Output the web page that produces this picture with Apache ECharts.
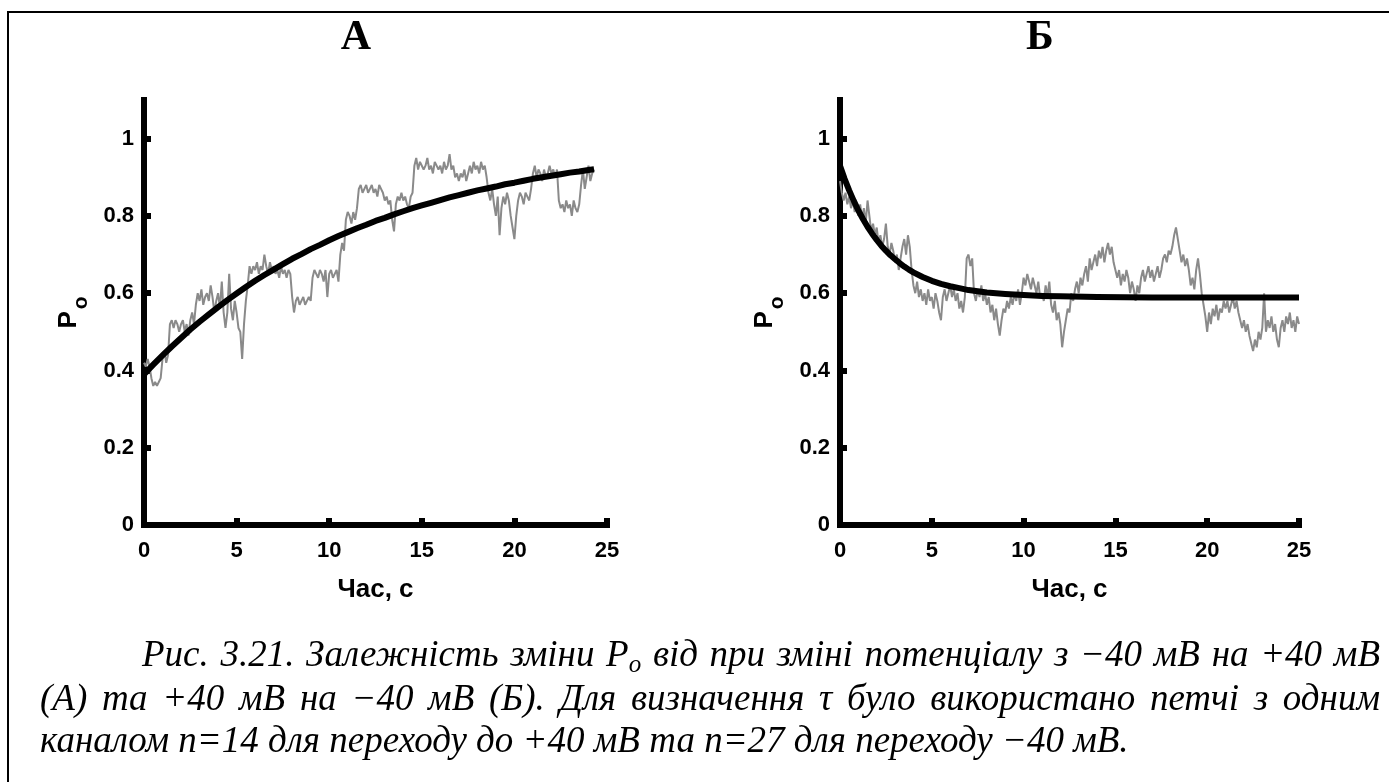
<!DOCTYPE html>
<html>
<head>
<meta charset="utf-8">
<script src="https://cdn.jsdelivr.net/npm/echarts@6/dist/echarts.min.js"></script>
<style>
  html, body { margin: 0; padding: 0; background: #fff; }
  #chart { width: 1389px; height: 782px; }
</style>
</head>
<body>
<div id="chart"></div>
<script>
// sample step of the gray traces, seconds
const timeStep = 0.1;

// panel A: open probability trace, 0 .. 24.3 s
const traceA = [
  0.42,0.41,0.43,0.41,0.38,0.36,0.37,0.36,0.37,0.38,
  0.43,0.45,0.42,0.44,0.52,0.53,0.51,0.53,0.52,0.50,
  0.52,0.53,0.50,0.52,0.49,0.53,0.55,0.52,0.57,0.60,
  0.58,0.61,0.57,0.59,0.60,0.58,0.62,0.59,0.55,0.58,
  0.60,0.56,0.63,0.55,0.51,0.55,0.65,0.56,0.53,0.58,
  0.55,0.51,0.50,0.43,0.52,0.58,0.62,0.67,0.65,0.67,
  0.66,0.68,0.65,0.67,0.66,0.70,0.67,0.65,0.68,0.66,
  0.67,0.65,0.66,0.64,0.67,0.65,0.66,0.64,0.66,0.65,
  0.59,0.55,0.58,0.59,0.57,0.58,0.59,0.57,0.58,0.59,
  0.58,0.64,0.66,0.65,0.64,0.66,0.65,0.63,0.66,0.59,
  0.65,0.66,0.64,0.65,0.66,0.63,0.70,0.73,0.71,0.79,
  0.81,0.80,0.78,0.81,0.79,0.82,0.87,0.88,0.86,0.87,
  0.88,0.86,0.87,0.88,0.86,0.87,0.85,0.88,0.87,0.86,
  0.84,0.85,0.83,0.84,0.79,0.76,0.83,0.85,0.84,0.86,
  0.84,0.85,0.83,0.82,0.85,0.86,0.93,0.95,0.92,0.94,
  0.94,0.92,0.93,0.95,0.92,0.93,0.91,0.94,0.93,0.92,
  0.93,0.91,0.94,0.92,0.93,0.96,0.92,0.93,0.90,0.91,
  0.89,0.91,0.90,0.92,0.89,0.91,0.93,0.91,0.94,0.92,
  0.93,0.91,0.94,0.92,0.93,0.90,0.86,0.84,0.87,0.83,
  0.80,0.85,0.75,0.82,0.85,0.83,0.86,0.84,0.80,0.77,
  0.74,0.80,0.84,0.86,0.85,0.83,0.86,0.85,0.84,0.87,
  0.91,0.93,0.90,0.92,0.91,0.89,0.92,0.90,0.91,0.93,
  0.91,0.92,0.90,0.92,0.84,0.82,0.83,0.81,0.84,0.82,
  0.83,0.80,0.84,0.82,0.81,0.83,0.88,0.92,0.87,0.90,
  0.93,0.89,0.91,0.92
];

// panel A: fitted curve
const fitATime = [0,0.5,1,1.5,2,2.5,3,3.5,4,4.5,5,5.5,6,6.5,7,7.5,8,8.5,9,9.5,10,10.5,11,11.5,12,
  12.5,13,13.5,14,14.5,15,15.5,16,16.5,17,17.5,18,18.5,19,19.5,20,20.5,21,21.5,22,22.5,23,23.5,24,24.3];
const fitA = [0.390,0.415,0.439,0.462,0.484,0.506,0.526,0.545,0.564,0.582,0.599,0.616,0.632,0.647,
  0.661,0.675,0.689,0.701,0.714,0.725,0.737,0.748,0.758,0.768,0.777,0.787,0.795,0.804,0.812,0.820,
  0.827,0.834,0.841,0.848,0.854,0.860,0.866,0.871,0.876,0.882,0.886,0.891,0.896,0.900,0.904,0.908,
  0.912,0.915,0.919,0.921];

// panel B: open probability trace, 0 .. 25 s
const traceB = [
  0.89,0.86,0.84,0.86,0.83,0.85,0.82,0.84,0.81,0.83,
  0.80,0.83,0.79,0.82,0.78,0.84,0.80,0.76,0.78,0.75,
  0.77,0.73,0.75,0.72,0.74,0.78,0.72,0.70,0.73,0.71,
  0.68,0.70,0.66,0.69,0.72,0.74,0.70,0.75,0.72,0.66,
  0.62,0.60,0.63,0.59,0.61,0.58,0.60,0.57,0.61,0.58,
  0.59,0.56,0.60,0.58,0.55,0.53,0.59,0.61,0.58,0.60,
  0.62,0.59,0.61,0.58,0.60,0.56,0.58,0.55,0.59,0.69,
  0.70,0.67,0.69,0.60,0.58,0.61,0.59,0.62,0.58,0.60,
  0.57,0.59,0.55,0.57,0.53,0.56,0.52,0.49,0.53,0.56,
  0.55,0.58,0.56,0.59,0.57,0.60,0.58,0.61,0.57,0.60,
  0.64,0.62,0.65,0.63,0.61,0.64,0.62,0.60,0.63,0.59,
  0.60,0.58,0.62,0.59,0.63,0.57,0.55,0.58,0.53,0.55,
  0.52,0.46,0.50,0.53,0.56,0.55,0.60,0.58,0.61,0.63,
  0.60,0.64,0.62,0.65,0.67,0.63,0.69,0.66,0.68,0.70,
  0.67,0.71,0.69,0.72,0.68,0.71,0.73,0.70,0.72,0.68,
  0.66,0.64,0.66,0.62,0.65,0.63,0.66,0.64,0.60,0.63,
  0.61,0.58,0.62,0.60,0.64,0.66,0.63,0.65,0.67,0.64,
  0.66,0.63,0.65,0.67,0.64,0.66,0.69,0.70,0.68,0.71,
  0.70,0.72,0.75,0.77,0.74,0.71,0.68,0.70,0.67,0.69,
  0.66,0.62,0.64,0.61,0.66,0.69,0.65,0.60,0.57,0.54,
  0.50,0.55,0.52,0.56,0.54,0.57,0.53,0.56,0.55,0.58,
  0.56,0.58,0.55,0.57,0.59,0.56,0.58,0.55,0.53,0.51,
  0.53,0.50,0.52,0.49,0.47,0.45,0.48,0.46,0.50,0.48,
  0.51,0.60,0.50,0.53,0.51,0.54,0.50,0.52,0.48,0.46,
  0.51,0.53,0.50,0.54,0.52,0.55,0.51,0.53,0.50,0.54,
  0.52
];

// panel B: fitted curve
const fitBTime = [0,0.25,0.5,0.75,1,1.25,1.5,1.75,2,2.25,2.5,2.75,3,3.25,3.5,3.75,4,4.5,5,5.5,6,
  6.5,7,7.5,8,9,10,11,12,14,17,20,25];
const fitB = [0.930,0.896,0.866,0.839,0.814,0.792,0.772,0.754,0.738,0.723,0.710,0.698,0.688,0.678,
  0.669,0.661,0.654,0.642,0.632,0.624,0.618,0.613,0.608,0.605,0.602,0.598,0.595,0.593,0.592,0.590,
  0.589,0.589,0.589];

const yTicks = [0, 0.2, 0.4, 0.6, 0.8, 1];
const panelTitles = ['А', 'Б'];
const xName = 'Час, с';

const captionLine1 = ['Рис.', '3.21.', 'Залежність', 'зміни', {main: 'P', sub: 'o'}, 'від', 'при',
  'зміні', 'потенціалу', 'з', '−40', 'мВ', 'на', '+40', 'мВ'];
const captionLine2 = ['(А)', 'та', '+40', 'мВ', 'на', '−40', 'мВ', '(Б).', 'Для', 'визначення', 'τ',
  'було', 'використано', 'петчі', 'з', 'одним'];
const captionLine3 = ['каналом', 'n=14', 'для', 'переходу', 'до', '+40', 'мВ', 'та', 'n=27', 'для',
  'переходу', '−40', 'мВ.'];

const toPairs = (times, vals) => vals.map((v, i) => [times[i], v]);
const traceTimes = (vals) => vals.map((v, i) => +(i * timeStep).toFixed(1));

const sansFont = "'Liberation Sans', Arial, sans-serif";
const serifFont = "'Liberation Serif', 'Times New Roman', serif";
const capSize = 37;

function xAxisFor(idx) {
  return {
    gridIndex: idx, type: 'value', min: 0, max: 25, interval: 5,
    name: xName, nameLocation: 'middle', nameGap: 52,
    nameTextStyle: { fontFamily: sansFont, fontWeight: 'bold', fontSize: 26, color: '#000' },
    axisLine: { lineStyle: { color: '#000', width: 6, cap: 'square' } },
    axisTick: { inside: true, length: 7, lineStyle: { color: '#000', width: 6 } },
    axisLabel: { margin: 15, fontFamily: sansFont, fontWeight: 'bold', fontSize: 22, color: '#000' },
    splitLine: { show: false }
  };
}

function yAxisFor(idx) {
  return {
    gridIndex: idx, type: 'value', min: 0, max: 1.1,
    name: '{p|P}{o|o}', nameLocation: 'middle', nameRotate: 90, nameGap: 52,
    nameTextStyle: {
      rich: {
        p: { fontFamily: sansFont, fontWeight: 'bold', fontSize: 26, color: '#000' },
        o: { fontFamily: sansFont, fontWeight: 'bold', fontSize: 21, color: '#000', padding: [26, 0, 0, 2] }
      }
    },
    axisLine: { lineStyle: { color: '#000', width: 6, cap: 'square' } },
    axisTick: { inside: true, length: 7, customValues: yTicks, lineStyle: { color: '#000', width: 6 } },
    axisLabel: { margin: 10, customValues: yTicks, fontFamily: sansFont, fontWeight: 'bold', fontSize: 22, color: '#000' },
    splitLine: { show: false }
  };
}

// caption words are placed one by one so lines 1-2 can be justified like the source
const measureCtx = document.createElement('canvas').getContext('2d');
function wordWidth(w, size) {
  measureCtx.font = 'italic ' + size + 'px ' + serifFont;
  return measureCtx.measureText(w).width;
}
// y is the middle of the line (verticalAlign: 'middle')
function captionWords(words, x0, x1, y, justify) {
  const subSize = Math.round(capSize * 0.68);
  const widths = words.map(w => typeof w === 'string'
    ? wordWidth(w, capSize) : wordWidth(w.main, capSize) + wordWidth(w.sub, subSize));
  const total = widths.reduce((a, b) => a + b, 0);
  const gap = justify ? (x1 - x0 - total) / (words.length - 1) : wordWidth(' ', capSize);
  const els = [];
  let x = x0;
  words.forEach((w, i) => {
    const style = { fill: '#000', fontFamily: serifFont, fontStyle: 'italic', fontSize: capSize,
      verticalAlign: 'middle' };
    if (typeof w === 'string') {
      els.push({ type: 'text', x: x, y: y, silent: true, style: Object.assign({ text: w }, style) });
    } else {
      els.push({ type: 'text', x: x, y: y, silent: true, style: Object.assign({ text: w.main }, style) });
      els.push({ type: 'text', x: x + wordWidth(w.main, capSize), y: y + 9, silent: true,
        style: Object.assign({}, style, { text: w.sub, fontSize: subSize }) });
    }
    x += widths[i] + gap;
  });
  return els;
}

const chart = echarts.init(document.getElementById('chart'));

const option = {
  backgroundColor: '#fff',
  animation: false,
  grid: [
    { left: 144, right: 782, top: 100, bottom: 257 },
    { left: 840, right: 90, top: 100, bottom: 257 }
  ],
  xAxis: [xAxisFor(0), xAxisFor(1)],
  yAxis: [yAxisFor(0), yAxisFor(1)],
  series: [
    { name: 'traceA', type: 'line', xAxisIndex: 0, yAxisIndex: 0, showSymbol: false,
      data: toPairs(traceTimes(traceA), traceA), lineStyle: { color: '#8a8a8a', width: 2 }, z: 2 },
    { name: 'fitA', type: 'line', xAxisIndex: 0, yAxisIndex: 0, showSymbol: false,
      data: toPairs(fitATime, fitA), lineStyle: { color: '#000', width: 6, join: 'round' }, z: 3 },
    { name: 'traceB', type: 'line', xAxisIndex: 1, yAxisIndex: 1, showSymbol: false,
      data: toPairs(traceTimes(traceB), traceB), lineStyle: { color: '#8a8a8a', width: 2 }, z: 2 },
    { name: 'fitB', type: 'line', xAxisIndex: 1, yAxisIndex: 1, showSymbol: false,
      data: toPairs(fitBTime, fitB), lineStyle: { color: '#000', width: 6, join: 'round' }, z: 3 }
  ],
  graphic: [
    { type: 'rect', silent: true, shape: { x: 8, y: 12, width: 1400, height: 800 },
      style: { fill: 'none', stroke: '#000', lineWidth: 2 } },
    { type: 'text', x: 356, y: 38, silent: true,
      style: { text: panelTitles[0], fill: '#000', fontFamily: serifFont, fontWeight: 'bold', fontSize: 42,
        align: 'center', verticalAlign: 'middle' } },
    { type: 'text', x: 1040, y: 38, silent: true,
      style: { text: panelTitles[1], fill: '#000', fontFamily: serifFont, fontWeight: 'bold', fontSize: 42,
        align: 'center', verticalAlign: 'middle' } }
  ].concat(
    captionWords(captionLine1, 142, 1380, 656, true),
    captionWords(captionLine2, 40, 1380, 700, true),
    captionWords(captionLine3, 40, 1380, 742, false)
  )
};

chart.setOption(option);
</script>
</body>
</html>
